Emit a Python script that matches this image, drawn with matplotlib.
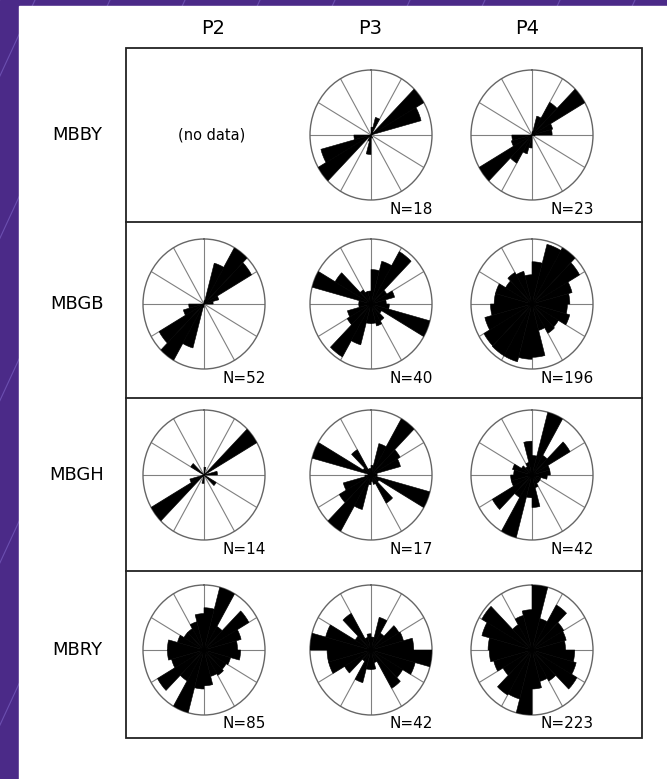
import numpy as np
import matplotlib
matplotlib.use('Agg')
import matplotlib.pyplot as plt
from matplotlib.patches import Rectangle

W, H = 667, 779

columns = ['P2', 'P3', 'P4']
rows = ['MBBY', 'MBGB', 'MBGH', 'MBRY']

# 15 degree bins, clockwise from north (0-15, 15-30, ...),
# bar length relative to the rose radius
mbby_p3 = [0.12, 0.28, 0.05, 1.0, 0.85, 0, 0, 0, 0, 0, 0.05, 0,
           0.3, 0.1, 0, 1.0, 0.85, 0.28, 0, 0, 0, 0, 0, 0]
mbby_p4 = [0.05, 0.3, 0.58, 1.0, 0.35, 0.33, 0.05, 0, 0, 0, 0, 0,
           0.2, 0.3, 0.5, 1.0, 0.35, 0.33, 0, 0, 0, 0, 0, 0]
mbgb_p2 = [0.05, 0.65, 1.0, 0.9, 0.25, 0.15, 0, 0, 0, 0, 0, 0,
           0.05, 0.7, 1.0, 0.85, 0.35, 0.25, 0, 0, 0, 0, 0, 0]
mbgb_p3 = [0.53, 0.68, 0.93, 0.3, 0.4, 0.25, 0.3, 1.0, 0.2, 0.3, 0.35, 0.3,
           0.3, 0.65, 0.94, 0.45, 0.4, 0.2, 0.2, 1.0, 0.68, 0.25, 0.2, 0.2]
mbgb_p4 = [0.65, 0.95, 1.0, 0.9, 0.68, 0.62, 0.58, 0.64, 0.5, 0.52, 0.42, 0.82,
           0.85, 0.92, 0.92, 0.91, 0.8, 0.68, 0.62, 0.62, 0.5, 0.56, 0.52, 0.45]
mbgh_p2 = [0.12, 0, 0, 1.0, 0, 0.22, 0, 0, 0.23, 0, 0, 0,
           0.13, 0, 0, 1.0, 0.24, 0, 0, 0, 0.25, 0, 0, 0]
mbgh_p3 = [0.15, 0.5, 1.0, 0.55, 0.5, 0.1, 0.1, 1.0, 0.15, 0.5, 0.15, 0.1,
           0.15, 0.55, 1.0, 0.6, 0.47, 0.1, 0.05, 1.0, 0.15, 0.45, 0.1, 0.1]
mbgh_p4 = [0.3, 1.0, 0.35, 0.72, 0.3, 0.3, 0.25, 0.15, 0.15, 0.15, 0.2, 0.5,
           0.35, 1.0, 0.4, 0.75, 0.35, 0.35, 0.3, 0.33, 0.2, 0.15, 0.2, 0.52]
mbry_p2 = [0.65, 1.0, 0.42, 0.85, 0.63, 0.55, 0.6, 0.45, 0.42, 0.45, 0.42, 0.55,
           0.6, 1.0, 0.55, 0.88, 0.55, 0.6, 0.6, 0.45, 0.38, 0.38, 0.45, 0.56]
mbry_p3 = [0.2, 0.52, 0.3, 0.53, 0.55, 0.7, 1.0, 0.75, 0.6, 0.68, 0.2, 0.3,
           0.3, 0.52, 0.2, 0.5, 0.72, 0.72, 1.0, 0.77, 0.3, 0.65, 0.2, 0.25]
mbry_p4 = [1.0, 0.5, 0.8, 0.6, 0.58, 0.55, 0.7, 0.75, 0.85, 0.55, 0.5, 0.6,
           1.0, 0.78, 0.8, 0.55, 0.65, 0.7, 0.72, 0.85, 0.95, 0.45, 0.55, 0.62]

roses = [[None, mbby_p3, mbby_p4],
         [mbgb_p2, mbgb_p3, mbgb_p4],
         [mbgh_p2, mbgh_p3, mbgh_p4],
         [mbry_p2, mbry_p3, mbry_p4]]
counts = [[None, 18, 23],
          [52, 40, 196],
          [14, 17, 42],
          [85, 42, 223]]


def rect(x0, y0, w, h):
    # pixel box (top-left origin) -> figure fraction
    return [x0 / W, 1 - (y0 + h) / H, w / W, h / H]


fig = plt.figure(figsize=(W / 100, H / 100), dpi=100)

# purple backdrop with diagonal stripes, white sheet on top
bg = fig.add_axes([0, 0, 1, 1])
bg.set_xlim(0, W)
bg.set_ylim(H, 0)
bg.axis('off')
bg.add_patch(Rectangle((0, 0), W, H, color='#4b2a88', zorder=0))
for x0 in range(-400, 700, 75):
    bg.plot([x0, x0 + 360], [H, 0], color='#6b4fb0', lw=0.8, zorder=1)
bg.add_patch(Rectangle((19, 6), W - 19, H - 6, color='white', zorder=2))

box_l, box_r, box_t, box_b = 126, 642, 48, 738
row_lines = [box_t, 222, 398, 571, box_b]
col_x = [204, 371, 532]
head_x = [213, 370, 527]
row_y = [135, 304, 475, 650]
rx, ry = 61, 65

bg.add_patch(Rectangle((box_l, box_t), box_r - box_l, box_b - box_t,
                       fill=False, ec='#222222', lw=1.3, zorder=3))
for y in row_lines[1:-1]:
    bg.plot([box_l, box_r], [y, y], color='#222222', lw=1.3, zorder=3)

for j, name in enumerate(columns):
    bg.text(head_x[j], 28, name, ha='center', va='center', fontsize=14, zorder=4)
for i, name in enumerate(rows):
    bg.text(77, row_y[i], name, ha='center', va='center', fontsize=13, zorder=4)

theta = np.deg2rad(np.arange(0, 360, 15))
width = np.deg2rad(15)

for i in range(4):
    for j in range(3):
        vals = roses[i][j]
        cx, cy = col_x[j], row_y[i]
        if vals is None:
            bg.text(cx + 8, cy, '(no data)', ha='center', va='center',
                    fontsize=10.5, zorder=4)
            continue
        ax = fig.add_axes(rect(cx - rx, cy - ry, 2 * rx, 2 * ry), projection='polar')
        ax.set_aspect('auto')
        ax.set_theta_zero_location('N')
        ax.set_theta_direction(-1)
        ax.bar(theta, vals, width=width, align='edge', color='black',
               edgecolor='black', lw=0.4, zorder=3)
        ax.set_ylim(0, 1)
        ax.set_yticks([])
        ax.set_thetagrids(range(0, 360, 30), labels=[])
        ax.grid(True, color='#808080', lw=0.8)
        ax.spines['polar'].set_color('#666666')
        ax.spines['polar'].set_linewidth(1.0)
        bg.text(cx + 62, cy + 74, f'N={counts[i][j]}', ha='right', va='center',
                fontsize=11, zorder=4)

fig.savefig('out.png', dpi=100)
